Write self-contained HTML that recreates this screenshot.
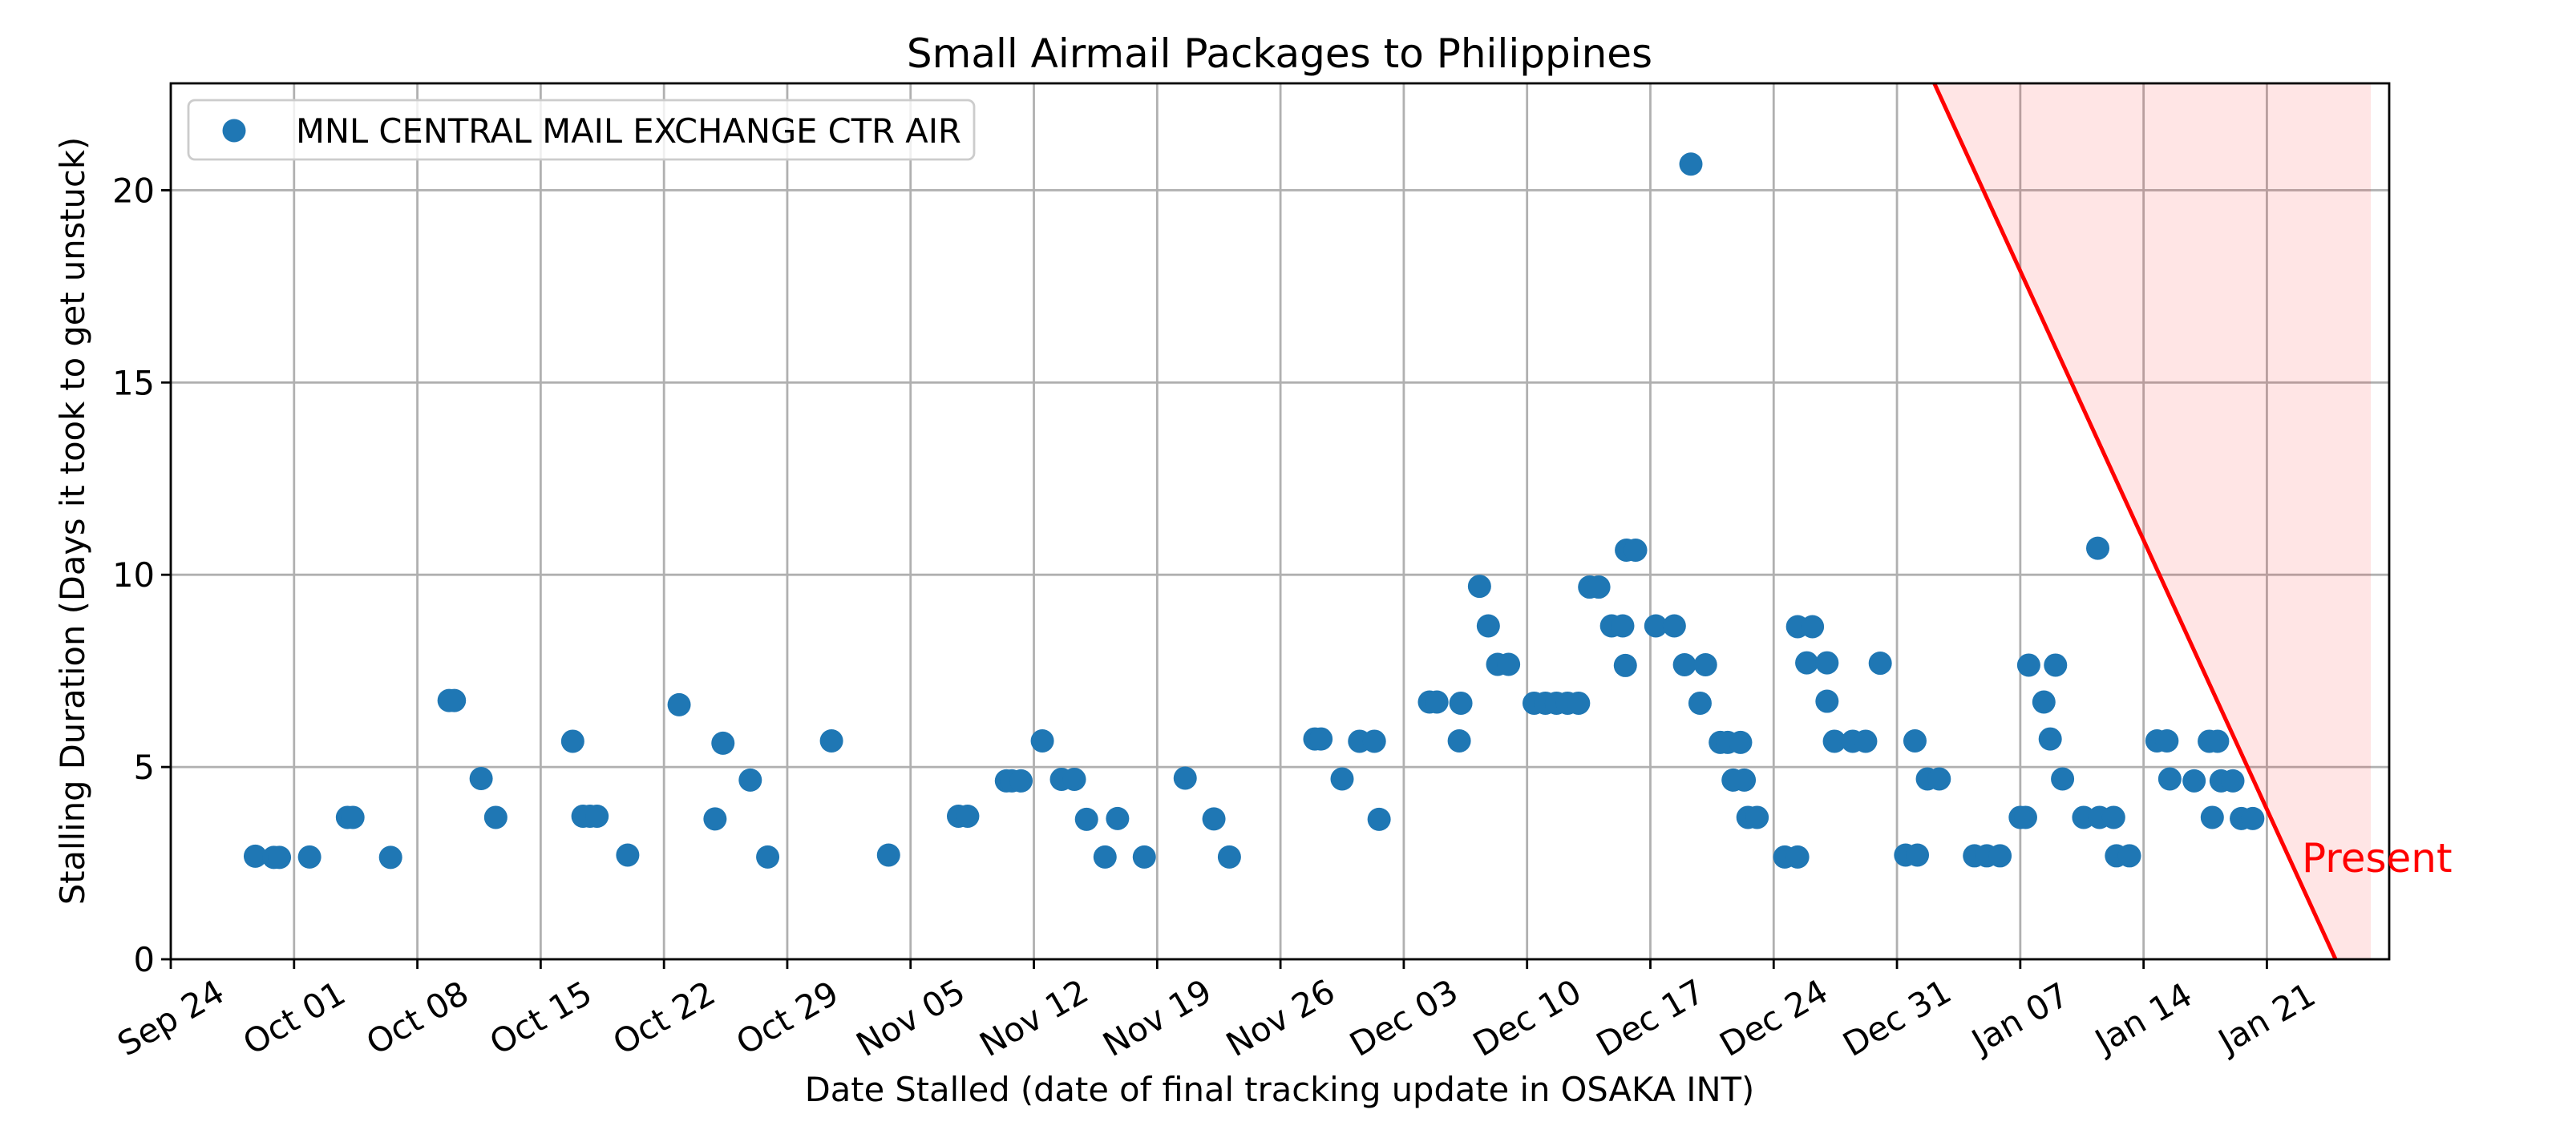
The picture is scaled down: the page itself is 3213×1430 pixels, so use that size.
<!DOCTYPE html>
<html><head><meta charset="utf-8"><style>
html,body{margin:0;padding:0;background:#fff;}
svg{display:block;font-family:"DejaVu Sans","Liberation Sans",sans-serif;}
</style></head><body>
<svg id="chart" width="3213" height="1430" viewBox="0 0 3213 1430" xmlns="http://www.w3.org/2000/svg">
<defs><clipPath id="plotclip"><rect x="213" y="104" width="2767" height="1093"/></clipPath></defs>
<rect x="0" y="0" width="3213" height="1430" fill="#fff"/>
<g id="grid"></g>
<g id="shade" clip-path="url(#plotclip)"></g>
<g id="marks" clip-path="url(#plotclip)"></g>
<g id="axes"></g>
<text x="1596" y="84" font-size="50" text-anchor="middle">Small Airmail Packages to Philippines</text>
<text x="1596" y="1374" font-size="41.6" text-anchor="middle">Date Stalled (date of final tracking update in OSAKA INT)</text>
<text x="0" y="0" font-size="41.6" text-anchor="middle" transform="translate(105,650) rotate(-90)">Stalling Duration (Days it took to get unstuck)</text>
<g>
<rect x="235" y="125" width="980" height="74" rx="8" fill="#fff" fill-opacity="0.8" stroke="#cccccc" stroke-width="2.8"/>
<circle cx="292" cy="163" r="14.5" fill="#1f77b4"/>
<text x="369" y="178" font-size="41.6">MNL CENTRAL MAIL EXCHANGE CTR AIR</text>
</g>
</svg>
<script>
// day offsets from Sep 24
const days = [4.8,5.85,6.17,7.88,10.03,10.34,12.48,15.8,16.1,17.62,
18.45,22.82,23.4,23.8,24.2,25.94,28.86,30.9,31.35,32.9,
33.89,37.51,40.75,44.72,45.24,47.44,47.75,48.27,49.48,50.57,
51.3,51.99,53.04,53.75,55.27,57.59,59.22,60.1,64.95,65.3,
66.5,67.49,68.33,68.6,71.46,71.88,73.24,73.15,74.3,74.8,
75.33,75.95,77.4,78.04,78.67,79.3,79.92,80.55,81.07,81.8,
82.43,82.58,82.64,83.16,84.31,85.36,85.94,87.13,86.82,86.3,
87.97,88.39,89.12,88.7,89.33,89.54,90.06,91.63,92.36,92.36,
93.2,92.88,94.03,94.03,94.45,95.49,96.22,97.05,99.02,98.49,
99.16,99.73,100.4,102.4,103.1,103.85,105.0,105.3,105.48,107.0,
106.34,106.7,107.4,109.4,108.6,109.5,110.3,110.46,111.2,112.76,
113.33,113.49,114.87,115.73,116.2,116.4,117.07,115.9,117.55,118.2];
const durations = [2.68,2.65,2.65,2.66,3.69,3.69,2.65,6.73,6.73,4.70,
3.69,5.67,3.72,3.72,3.72,2.71,6.62,3.65,5.62,4.66,
2.66,5.68,2.71,3.72,3.72,4.64,4.64,4.64,5.68,4.68,
4.68,3.64,2.66,3.66,2.66,4.71,3.65,2.66,5.73,5.73,
4.69,5.67,5.67,3.64,6.69,6.69,6.66,5.68,9.70,8.67,
7.67,7.67,6.66,6.66,6.66,6.66,6.66,9.68,9.68,8.67,
8.67,7.64,10.64,10.64,8.67,8.67,7.66,7.66,6.66,20.68,
5.64,5.64,5.64,4.66,4.66,3.69,3.69,2.66,2.66,8.65,
8.65,7.71,7.71,6.71,5.67,5.67,5.67,7.7,5.68,2.71,
2.71,4.69,4.69,2.69,2.69,2.69,3.69,3.69,7.65,7.65,
6.69,5.73,4.69,10.69,3.69,3.69,3.69,2.69,2.69,5.68,
5.68,4.69,4.64,5.67,5.67,4.64,4.64,3.69,3.66,3.66];
const xTickLabels = ["Sep 24","Oct 01","Oct 08","Oct 15","Oct 22","Oct 29","Nov 05","Nov 12","Nov 19","Nov 26","Dec 03","Dec 10","Dec 17","Dec 24","Dec 31","Jan 07","Jan 14","Jan 21"];
const xTickDays = [0,7,14,21,28,35,42,49,56,63,70,77,84,91,98,105,112,119];
const yTicks = [0,5,10,15,20];
const presentDay = [122.9];
const shadeEndDay = [124.9];

const L=213,R=2980,T=104,B=1197,YMAX=22.78;
const x = d => L + d*21.97;
const y = v => B - v*(B-T)/YMAX;
const NS="http://www.w3.org/2000/svg";
function mk(tag, attrs, parent){const e=document.createElementNS(NS,tag);for(const k in attrs)e.setAttribute(k,attrs[k]);parent.appendChild(e);return e;}
const grid=document.getElementById('grid'),marks=document.getElementById('marks'),axes=document.getElementById('axes'),shade=document.getElementById('shade');

xTickDays.forEach((d,i)=>{
  const gl=mk('line',{x1:x(d),x2:x(d),y1:T,y2:B,stroke:'#b0b0b0','stroke-width':2.8},grid);
  
  
  const tk=mk('line',{x1:x(d),x2:x(d),y1:B,y2:B+12,stroke:'#000','stroke-width':2.8},axes);
  
  
  const t=mk('text',{x:x(d),y:1270,'font-size':41.6,'text-anchor':'middle','dominant-baseline':'central',transform:`rotate(-30 ${x(d)} 1270)`},axes);
  t.textContent=xTickLabels[i];
  
  
});
yTicks.forEach(v=>{
  const gl=mk('line',{x1:L,x2:R,y1:y(v),y2:y(v),stroke:'#b0b0b0','stroke-width':2.8},grid);
  
  
  const tk=mk('line',{x1:L-12,x2:L,y1:y(v),y2:y(v),stroke:'#000','stroke-width':2.8},axes);
  
  
  const t=mk('text',{x:L-20,y:y(v)+15,'font-size':41.6,'text-anchor':'end'},axes);
  t.textContent=String(v);
  
  
});
const p=presentDay[0], se=shadeEndDay[0];
const sh=mk('polygon',{points:`${x(p-YMAX)},${y(YMAX)} ${x(p)},${y(0)} ${x(se)},${y(0)} ${x(se)},${y(YMAX)}`,fill:'#ff0000','fill-opacity':0.1},shade);


const ln=mk('line',{x1:x(p-YMAX),y1:y(YMAX),x2:x(p),y2:y(0),stroke:'#ff0000','stroke-width':5},shade);


days.forEach((d,i)=>{
  const c=mk('circle',{cx:x(d),cy:y(durations[i]),r:14.5,fill:'#1f77b4'},marks);
  
  
});
const fr=mk('rect',{x:L,y:T,width:R-L,height:B-T,fill:'none',stroke:'#000','stroke-width':2.8},axes);


const pt=mk('text',{x:2871,y:1088,'font-size':50,fill:'#ff0000'},axes);
pt.textContent='Present';


</script>
</body></html>
